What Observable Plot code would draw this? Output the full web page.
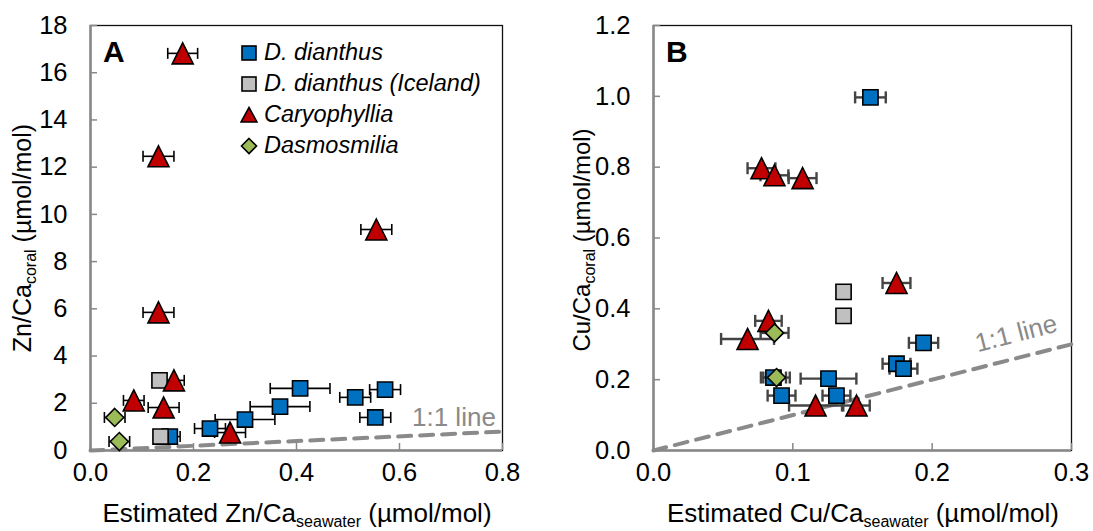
<!DOCTYPE html>
<html><head><meta charset="utf-8">
<script src="https://cdn.jsdelivr.net/npm/d3@7"></script>
<script src="https://cdn.jsdelivr.net/npm/@observablehq/plot@0.6"></script>
<style>
body{margin:0;background:#fff;font-family:"Liberation Sans",Arial,sans-serif;}
#wrap{position:relative;width:1093px;height:531px;overflow:hidden;background:#fff;}
.abs{position:absolute;white-space:nowrap;line-height:1;}
.abs sub{font-size:16px;vertical-align:-5px;line-height:0;}
.plot{position:absolute;top:0;overflow:visible;}
.leg{position:absolute;left:240px;font-style:italic;font-size:23.5px;}
.leg div{height:31px;display:flex;align-items:center;}
.leg svg{margin-right:6px;}
</style></head><body><div id="wrap"></div>
<script>
// ---------- Panel A: Zn/Ca ----------
const znXTicks = [0, 0.2, 0.4, 0.6, 0.8];
const znYTicks = [0, 2, 4, 6, 8, 10, 12, 14, 16, 18];
const znDianthusX = [0.154, 0.232, 0.300, 0.368, 0.407, 0.514, 0.572, 0.553];
const znDianthusY = [0.59, 0.93, 1.31, 1.86, 2.63, 2.25, 2.58, 1.40];
const znDianthusErr = [0.02, 0.03, 0.058, 0.058, 0.058, 0.03, 0.03, 0.03];
const znIcelandX = [0.134, 0.136];
const znIcelandY = [2.97, 0.59];
const znIcelandErr = [0, 0];
const znCaryoX = [0.179, 0.132, 0.555, 0.132, 0.162, 0.084, 0.142, 0.271];
const znCaryoY = [16.82, 12.46, 9.36, 5.85, 2.97, 2.12, 1.82, 0.76];
const znCaryoErr = [0.029, 0.03, 0.03, 0.03, 0.02, 0.02, 0.03, 0.03];
const znDasmoX = [0.047, 0.056];
const znDasmoY = [1.40, 0.38];
const znDasmoErr = [0.02, 0.02];
const znOneToOne = [0, 0.8];

// ---------- Panel B: Cu/Ca ----------
const cuXTicks = [0, 0.1, 0.2, 0.3];
const cuYTicks = [0, 0.2, 0.4, 0.6, 0.8, 1.0, 1.2];
const cuDianthusX = [0.1557, 0.0861, 0.0919, 0.1256, 0.1313, 0.1744, 0.1794, 0.1938];
const cuDianthusY = [0.997, 0.206, 0.155, 0.203, 0.155, 0.245, 0.231, 0.304];
const cuDianthusErr = [0.011, 0.009, 0.01, 0.02, 0.01, 0.01, 0.01, 0.0105];
const cuIcelandX = [0.1364, 0.1364];
const cuIcelandY = [0.448, 0.380];
const cuIcelandErr = [0, 0];
const cuCaryoX = [0.0775, 0.0868, 0.107, 0.1744, 0.0825, 0.0675, 0.1163, 0.1457];
const cuCaryoY = [0.797, 0.777, 0.769, 0.473, 0.366, 0.315, 0.127, 0.127];
const cuCaryoErr = [0.01, 0.01, 0.01, 0.01, 0.0095, 0.019, 0.019, 0.0095];
const cuDasmoX = [0.0869, 0.0883];
const cuDasmoY = [0.332, 0.206];
const cuDasmoErr = [0.01, 0.0095];
const cuOneToOne = [0, 0.3];

const seriesNames = ["D. dianthus", "D. dianthus (Iceland)", "Caryophyllia", "Dasmosmilia"];
const seriesColors = ["#0070C0", "#C0C0C0", "#C00000", "#9BBB59"];

// ---------- custom symbols ----------
const R = s => Math.sqrt(s / Math.PI);
const sq = {draw(c, s){ const r = R(s); c.moveTo(-r,-r); c.lineTo(r,-r); c.lineTo(r,r); c.lineTo(-r,r); c.closePath(); }};
const tri = {draw(c, s){ const r = R(s); c.moveTo(0,-r); c.lineTo(r,r); c.lineTo(-r,r); c.closePath(); }};
const dia = {draw(c, s){ const r = R(s); c.moveTo(0,-r); c.lineTo(r,0); c.lineTo(0,r); c.lineTo(-r,0); c.closePath(); }};
const cap = {draw(c, s){ const r = R(s); c.moveTo(0,-r); c.lineTo(0,r); }};
const seriesSymbols = [sq, sq, tri, dia];
const seriesR = [7.6, 7.6, 10.5, 9];

function rows(list) {
  return list.flatMap(([xs, ys, es], i) => xs.map((x, j) => ({x, y: ys[j], e: es[j], s: i})));
}
const znRows = rows([[znDianthusX, znDianthusY, znDianthusErr], [znIcelandX, znIcelandY, znIcelandErr], [znCaryoX, znCaryoY, znCaryoErr], [znDasmoX, znDasmoY, znDasmoErr]]);
const cuRows = rows([[cuDianthusX, cuDianthusY, cuDianthusErr], [cuIcelandX, cuIcelandY, cuIcelandErr], [cuCaryoX, cuCaryoY, cuCaryoErr], [cuDasmoX, cuDasmoY, cuDasmoErr]]);

function panel({data, xTicks, yTicks, xFmt, yFmt, width, marginLeft, marginRight, line, errColor, errWidth, capR}) {
  const err = data.filter(d => d.e > 0);
  const marks = [
    Plot.frame({stroke: "#111", strokeWidth: 1.3}),
    Plot.line(line, {x: d => d, y: d => d, stroke: "#8a8a8a", strokeWidth: 4, strokeDasharray: "13,9"}),
    Plot.axisX(xTicks, {tickSize: -7, tickPadding: 19, tickFormat: xFmt, stroke: "#888", strokeWidth: 1.5, fontSize: 25.5, label: null}),
    Plot.axisY(yTicks, {tickSize: -7, tickPadding: 30, tickFormat: yFmt, stroke: "#888", strokeWidth: 1.5, fontSize: 25.5, label: null}),
    Plot.ruleX([xTicks[0]], {stroke: "#888", strokeWidth: 2.5}),
    Plot.ruleY([yTicks[0]], {stroke: "#888", strokeWidth: 2.5}),
    Plot.link(err, {x1: d => d.x - d.e, x2: d => d.x + d.e, y1: "y", y2: "y", stroke: errColor, strokeWidth: errWidth}),
    Plot.dot(err, {x: d => d.x - d.e, y: "y", symbol: cap, r: capR, stroke: errColor, strokeWidth: errWidth, fill: "none"}),
    Plot.dot(err, {x: d => d.x + d.e, y: "y", symbol: cap, r: capR, stroke: errColor, strokeWidth: errWidth, fill: "none"})
  ];
  seriesNames.forEach((n, i) => {
    marks.push(Plot.dot(data.filter(d => d.s === i), {x: "x", y: "y", symbol: seriesSymbols[i], r: seriesR[i], fill: seriesColors[i], stroke: "#000", strokeWidth: 1.6}));
  });
  return Plot.plot({
    width, height: 531, marginTop: 25, marginBottom: 81, marginLeft, marginRight,
    style: {fontFamily: "'Liberation Sans', Arial, sans-serif", fontSize: "25px", color: "#000", background: "transparent", overflow: "visible"},
    x: {domain: [xTicks[0], xTicks[xTicks.length - 1]]},
    y: {domain: [yTicks[0], yTicks[yTicks.length - 1]]},
    marks
  });
}

const wrap = document.getElementById("wrap");
const svgA = panel({data: znRows, xTicks: znXTicks, yTicks: znYTicks, xFmt: d3.format(".1f"), yFmt: d3.format("d"),
  width: 520, marginLeft: 90, marginRight: 18, line: znOneToOne, errColor: "#000", errWidth: 1.6, capR: 5.5});
svgA.classList.add("plot"); svgA.style.left = "0px";
wrap.appendChild(svgA);
const svgB = panel({data: cuRows, xTicks: cuXTicks, yTicks: cuYTicks, xFmt: d3.format(".1f"), yFmt: d3.format(".1f"),
  width: 533, marginLeft: 93, marginRight: 22, line: cuOneToOne, errColor: "#444", errWidth: 2.4, capR: 6});
svgB.classList.add("plot"); svgB.style.left = "560px";
wrap.appendChild(svgB);

function addText(html, css) {
  const d = document.createElement("div");
  d.className = "abs"; d.innerHTML = html; Object.assign(d.style, css);
  wrap.appendChild(d); return d;
}
addText("A", {left: "103px", top: "37px", fontSize: "30px", fontWeight: "bold"});
addText("B", {left: "666px", top: "37px", fontSize: "30px", fontWeight: "bold"});
addText("Estimated Zn/Ca<sub>seawater</sub> (µmol/mol)", {left: "297px", top: "513px", fontSize: "26px", transform: "translate(-50%,-50%)"});
addText("Estimated Cu/Ca<sub>seawater</sub> (µmol/mol)", {left: "863px", top: "513px", fontSize: "26px", transform: "translate(-50%,-50%)"});
addText("Zn/Ca<sub>coral</sub> (µmol/mol)", {left: "22px", top: "238px", fontSize: "25px", transform: "translate(-50%,-50%) rotate(-90deg)"});
addText("Cu/Ca<sub>coral</sub> (µmol/mol)", {left: "582px", top: "240px", fontSize: "24px", transform: "translate(-50%,-50%) rotate(-90deg)"});
addText("1:1 line", {left: "412px", top: "404px", fontSize: "26px", color: "#8a8a8a"});
addText("1:1 line", {left: "1016px", top: "333px", fontSize: "26px", color: "#8a8a8a", transform: "translate(-50%,-50%) rotate(-14.5deg)"});

// legend
const leg = document.createElement("div");
leg.className = "leg"; leg.style.top = "37px";
const legSvgs = [
  '<rect x="2" y="2" width="14" height="14" fill="#0070C0" stroke="#000" stroke-width="1.6"/>',
  '<rect x="2" y="2" width="14" height="14" fill="#C0C0C0" stroke="#000" stroke-width="1.6"/>',
  '<path d="M9,1.5 L17,16 L1,16 Z" fill="#C00000" stroke="#000" stroke-width="1.6"/>',
  '<path d="M9,1.5 L16.5,9 L9,16.5 L1.5,9 Z" fill="#9BBB59" stroke="#000" stroke-width="1.6"/>'
];
seriesNames.forEach((n, i) => {
  const row = document.createElement("div");
  row.innerHTML = `<svg width="18" height="18">${legSvgs[i]}</svg><span>${n}</span>`;
  leg.appendChild(row);
});
wrap.appendChild(leg);
</script>
</body></html>
